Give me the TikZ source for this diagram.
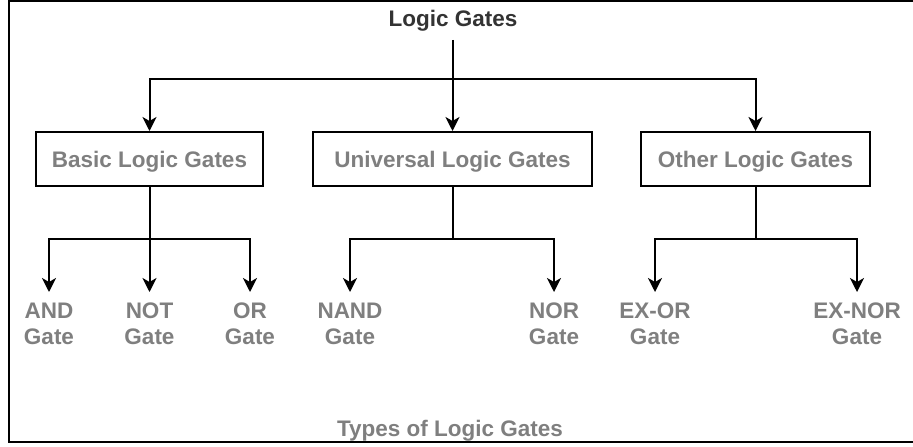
\documentclass[tikz,border=0pt]{standalone}
\usepackage{fontspec}
\setmainfont{Liberation Sans}
\usetikzlibrary{positioning}
\usetikzlibrary{arrows.meta}
\definecolor{gatetext}{HTML}{7F7F7F}
\definecolor{titletext}{HTML}{333333}

\begin{document}
\begin{tikzpicture}[x=1pt,y=-1pt,
    gatefont/.style={font=\fontsize{22.5}{26}\selectfont\bfseries},
    gatebox/.style={draw, line width=2pt, gatefont, text=gatetext, minimum height=54pt, inner sep=0pt, text height=16pt, text depth=0pt},
    leaf/.style={anchor=north, align=center, gatefont, text=gatetext, inner sep=11pt},
    arr/.style={-{Stealth[length=14pt,width=14pt,inset=4pt]}, line width=2pt}]
            \useasboundingbox (0,0) rectangle (913,447);
            \draw[line width=2pt] (913,1) -| (8.5,442) -- (913,442);

            \node[gatefont, text=titletext, anchor=base, inner sep=8pt] (title) at (453,27) {Logic Gates};
            \node[gatebox, minimum width=227pt] (basic) at (149.5,159) {Basic Logic Gates};
            \node[gatebox, minimum width=279pt] (univ) at (452.5,159) {Universal Logic Gates};
            \node[gatebox, minimum width=229pt] (other) at (755.5,159) {Other Logic Gates};

            \node[leaf] (andg) at (49,292) {AND\\Gate};
            \node[leaf] (notg) at (149.5,292) {NOT\\Gate};
            \node[leaf] (org) at (250,292) {OR\\Gate};
            \node[leaf] (nandg) at (350,292) {NAND\\Gate};
            \node[leaf] (norg) at (554,292) {NOR\\Gate};
            \node[leaf] (xorg) at (655,292) {EX-OR\\Gate};
            \node[leaf] (xnorg) at (857,292) {EX-NOR\\Gate};

            \node[gatefont, text=gatetext, anchor=base] (caption) at (450,436) {Types of Logic Gates};

            % branch points
            \coordinate (topsplit) at (452.5,79);
            \coordinate (basicsplit) at (149.5,239);
            \coordinate (univsplit) at (452.5,239);
            \coordinate (othersplit) at (755.5,239);

            \draw[arr] (title.south -| univ) -- (univ);
            \draw[arr] (topsplit) -| (basic);
            \draw[arr] (topsplit) -| (other);

            \draw[line width=2pt] (basic) -- (basicsplit);
            \draw[arr] (basicsplit) -| (andg);
            \draw[arr] (basicsplit) -- (notg);
            \draw[arr] (basicsplit) -| (org);

            \draw[line width=2pt] (univ) -- (univsplit);
            \draw[arr] (univsplit) -| (nandg);
            \draw[arr] (univsplit) -| (norg);

            \draw[line width=2pt] (other) -- (othersplit);
            \draw[arr] (othersplit) -| (xorg);
            \draw[arr] (othersplit) -| (xnorg);
        \end{tikzpicture}
\end{document}
